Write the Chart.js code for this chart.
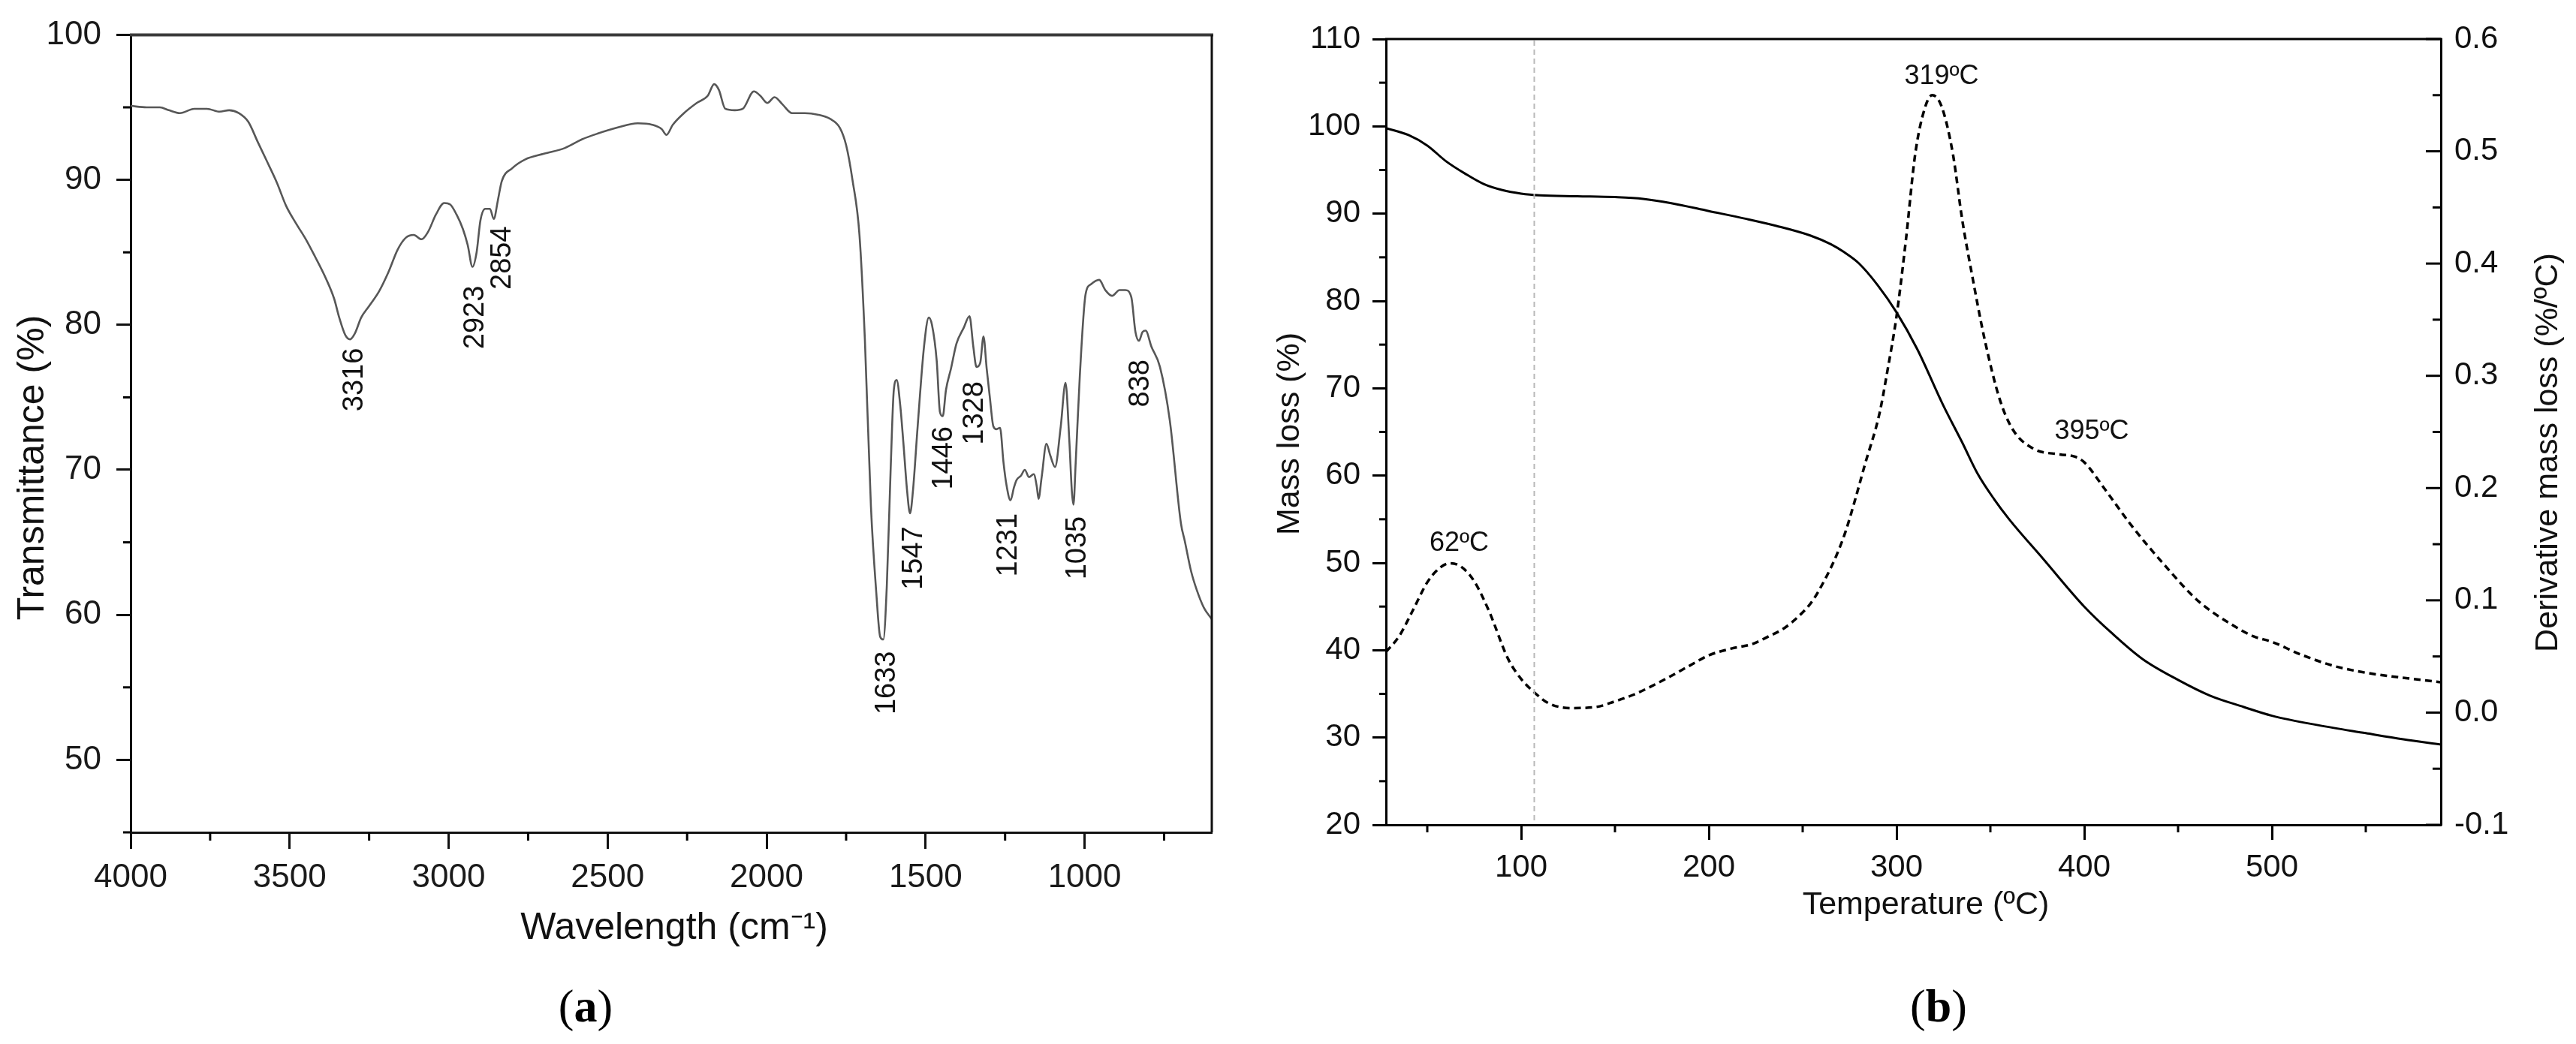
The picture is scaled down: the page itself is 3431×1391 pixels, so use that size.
<!DOCTYPE html>
<html>
<head>
<meta charset="utf-8">
<title>FTIR and TGA</title>
<script src="https://cdn.jsdelivr.net/npm/chart.js@4.4.1/dist/chart.umd.min.js"></script>
<style>
  html, body { margin: 0; padding: 0; background: #fff; }
  #page { position: relative; width: 3431px; height: 1391px; overflow: hidden; background: #fff; }
  canvas { position: absolute; top: 0; }
  #ftirChart { left: 0; }
  #tgaChart { left: 1700px; }
  .panel-tag { position: absolute; top: 1340px; transform: translate(-50%, -50%);
    font-family: "Liberation Serif", "DejaVu Serif", serif; font-size: 62px; color: #000; }
  .panel-tag b { font-weight: bold; }
</style>
</head>
<body>
<div id="page">
  <canvas id="ftirChart" width="1700" height="1300" style="width:1700px;height:1300px"></canvas>
  <canvas id="tgaChart" width="1731" height="1300" style="width:1731px;height:1300px"></canvas>
  <div class="panel-tag" style="left:780px">(<b>a</b>)</div>
  <div class="panel-tag" style="left:2582px">(<b>b</b>)</div>
</div>
<script>
// ---- (a) FTIR spectrum ----
const ftirWavenumber = [4000, 3950, 3908, 3880, 3845, 3800, 3760, 3720, 3690, 3660, 3630, 3600, 3574, 3540, 3511,
  3480, 3449, 3420, 3386, 3360, 3344, 3325, 3310, 3295, 3275, 3250, 3219, 3190, 3160, 3135, 3110, 3085, 3065,
  3040, 3014, 2995, 2975, 2955, 2940, 2925, 2912, 2900, 2885, 2870, 2858, 2845, 2833, 2800, 2760, 2700, 2634,
  2580, 2530, 2470, 2405, 2360, 2330, 2315, 2295, 2260, 2220, 2185, 2165, 2150, 2130, 2100, 2075, 2040, 2020,
  1998, 1975, 1950, 1920, 1880, 1840, 1800, 1770, 1750, 1730, 1708, 1691, 1672, 1655, 1643, 1633, 1622, 1610,
  1600, 1591, 1580, 1570, 1558, 1549, 1540, 1525, 1505, 1490, 1480, 1465, 1455, 1446, 1436, 1420, 1403, 1380,
  1362, 1350, 1340, 1328, 1318, 1308, 1298, 1287, 1277, 1266, 1255, 1246, 1233, 1222, 1214, 1200, 1188, 1175,
  1160, 1150, 1145, 1135, 1120, 1108, 1093, 1075, 1060, 1048, 1040, 1035, 1028, 1015, 997, 980, 954, 935, 914,
  890, 872, 853, 840, 829, 818, 808, 790, 763, 732, 697, 685, 665, 647, 625, 600];
const ftirTransmittance = [95.1, 95.0, 95.0, 94.8, 94.6, 94.9, 94.9, 94.7, 94.8, 94.6, 94.0, 92.6, 91.4, 89.8, 88.2,
  87.0, 85.9, 84.7, 83.2, 81.8, 80.5, 79.3, 79.0, 79.4, 80.5, 81.3, 82.3, 83.6, 85.2, 86.0, 86.2, 85.9, 86.4,
  87.6, 88.4, 88.3, 87.6, 86.6, 85.5, 84.0, 85.0, 87.2, 88.0, 88.0, 87.3, 88.6, 89.9, 90.8, 91.4, 91.8, 92.2,
  92.8, 93.2, 93.6, 93.9, 93.8, 93.5, 93.1, 93.8, 94.6, 95.3, 95.8, 96.6, 96.2, 94.9, 94.8, 94.9, 96.1, 95.8,
  95.3, 95.7, 95.2, 94.6, 94.6, 94.5, 94.2, 93.6, 92.4, 90.0, 86.2, 79.0, 67.5, 61.5, 58.5, 58.3, 62.0, 70.0,
  75.5, 76.2, 74.5, 71.9, 68.5, 67.0, 68.5, 73.0, 78.5, 80.5, 80.0, 77.5, 74.0, 73.7, 75.5, 77.0, 78.7, 79.8,
  80.6, 78.5, 77.1, 77.4, 79.2, 77.0, 75.0, 73.0, 72.8, 72.9, 70.5, 69.0, 67.9, 68.8, 69.3, 69.6, 70.0, 69.5,
  69.7, 68.8, 68.0, 69.5, 71.8, 71.0, 70.2, 73.0, 76.0, 72.0, 68.5, 67.6, 70.5, 76.5, 82.1, 82.8, 83.1, 82.4, 82.0,
  82.4, 82.4, 81.9, 79.5, 78.9, 79.5, 79.6, 78.5, 77.1, 73.4, 66.3, 65.1, 63.0, 61.7, 60.5, 59.7];
const ftirPeakLabels = ['3316', '2923', '2854', '1633', '1547', '1446', '1328', '1231', '1035', '838'];
const ftirPeakX = [3294, 2914, 2829, 1620, 1535, 1441, 1346, 1238, 1022, 824];
const ftirPeakTop = [78.4, 82.7, 86.8, 57.5, 66.1, 73.0, 76.1, 67.0, 66.8, 77.6];
const ftirXTicks = [4000, 3500, 3000, 2500, 2000, 1500, 1000];
const ftirXMinor = [3750, 3250, 2750, 2250, 1750, 1250, 750];
const ftirYTicks = [50, 60, 70, 80, 90, 100];
const ftirYMinor = [45, 55, 65, 75, 85, 95];

// ---- (b) TGA / DTG ----
const tgaTemp = [28, 40, 50, 60, 70, 80, 90, 100, 110, 130, 150, 165, 180, 200, 220, 236, 254, 265, 272, 280, 290,
  300, 311, 325, 335, 343, 352, 360, 378, 400, 415, 431, 450, 467, 485, 500, 525, 550, 570, 590];
const tgaMass = [99.8, 99.0, 97.8, 96.0, 94.6, 93.4, 92.7, 92.3, 92.1, 92.0, 91.9, 91.7, 91.2, 90.3, 89.4, 88.6,
  87.5, 86.5, 85.6, 84.3, 81.8, 78.7, 74.5, 68.0, 63.8, 60.3, 57.3, 55.0, 50.5, 45.0, 41.9, 39.0, 36.6, 34.8, 33.5,
  32.5, 31.4, 30.5, 29.8, 29.2];
const dtgTemp = [28, 35, 42, 50, 56, 62, 68, 75, 83, 93, 100, 107, 115, 127, 140, 150, 160, 177, 190, 200, 212, 223,
  232, 240, 248, 255, 262, 268, 273, 278, 283, 291, 295, 300, 305, 310, 315, 319, 324, 330, 335, 340, 347, 355,
  362, 373, 387, 395, 400, 411, 425, 443, 461, 479, 490, 500, 515, 532, 545, 560, 575, 590];
const dtgRate = [0.054, 0.068, 0.090, 0.116, 0.128, 0.133, 0.130, 0.117, 0.090, 0.048, 0.030, 0.018, 0.008, 0.004,
  0.005, 0.010, 0.016, 0.030, 0.042, 0.051, 0.057, 0.061, 0.068, 0.075, 0.086, 0.099, 0.119, 0.140, 0.162, 0.190,
  0.220, 0.267, 0.303, 0.353, 0.421, 0.498, 0.538, 0.550, 0.540, 0.498, 0.439, 0.392, 0.332, 0.279, 0.252, 0.235,
  0.230, 0.228, 0.223, 0.199, 0.167, 0.131, 0.099, 0.078, 0.068, 0.063, 0.052, 0.042, 0.037, 0.033, 0.030, 0.027];
const peakLabels = ['62ºC', '319ºC', '395ºC'];
const peakX = [67, 324, 404];
const peakY = [52.2, 105.7, 65.0];
const dryingLine = 107;
const tempTicks = [100, 200, 300, 400, 500];
const tempMinor = [50, 150, 250, 350, 450, 550];
const massTicks = [20, 30, 40, 50, 60, 70, 80, 90, 100, 110];
const massMinor = [25, 35, 45, 55, 65, 75, 85, 95, 105];
const rateTicks = [-0.1, 0, 0.1, 0.2, 0.3, 0.4, 0.5, 0.6];
const rateMinor = [-0.05, 0.05, 0.15, 0.25, 0.35, 0.45, 0.55];

const FONT = '"Liberation Sans", Arial, sans-serif';

// extra drawing: closed frame edges, minor ticks, markers, titles, peak labels
const extras = {
  id: 'extras',
  afterDraw(chart, args, opts) {
    const ctx = chart.ctx;
    const a = chart.chartArea;
    ctx.save();
    ctx.lineCap = 'butt';

    (opts.edges || []).forEach(e => {
      ctx.strokeStyle = e.color;
      ctx.lineWidth = e.width;
      ctx.beginPath();
      if (e.side === 'top') { ctx.moveTo(a.left - 1, a.top); ctx.lineTo(a.right + e.width / 2, a.top); }
      if (e.side === 'right') { ctx.moveTo(a.right, a.top); ctx.lineTo(a.right, a.bottom); }
      ctx.stroke();
    });

    (opts.ticks || []).forEach(t => {
      const s = chart.scales[t.scale];
      ctx.strokeStyle = '#000';
      ctx.lineWidth = t.width || 3;
      t.values.forEach(v => {
        const p = s.getPixelForValue(v);
        ctx.beginPath();
        if (t.where === 'bottom') { ctx.moveTo(p, a.bottom); ctx.lineTo(p, a.bottom + t.len); }
        if (t.where === 'left') { ctx.moveTo(a.left, p); ctx.lineTo(a.left - t.len, p); }
        if (t.where === 'rightIn') { ctx.moveTo(a.right, p); ctx.lineTo(a.right - t.len, p); }
        ctx.stroke();
      });
    });

    (opts.vlines || []).forEach(l => {
      const p = chart.scales[l.scale].getPixelForValue(l.value);
      ctx.strokeStyle = l.color;
      ctx.lineWidth = 2;
      ctx.setLineDash([7, 5]);
      ctx.beginPath();
      ctx.moveTo(p, a.top + 2);
      ctx.lineTo(p, a.bottom - 2);
      ctx.stroke();
      ctx.setLineDash([]);
    });

    (opts.labels || []).forEach(l => {
      const x = chart.scales[l.xScale].getPixelForValue(l.x);
      const y = chart.scales[l.yScale].getPixelForValue(l.y);
      ctx.font = l.font;
      ctx.fillStyle = '#111';
      ctx.translate(x, y);
      ctx.rotate(l.rotate || 0);
      ctx.textAlign = l.align || 'center';
      ctx.textBaseline = 'middle';
      ctx.fillText(l.text, 0, 0);
      ctx.setTransform(1, 0, 0, 1, 0, 0);
    });

    (opts.titles || []).forEach(t => {
      ctx.font = t.font;
      ctx.fillStyle = '#111';
      ctx.translate(t.px, t.py);
      ctx.rotate(t.rotate || 0);
      ctx.textAlign = 'center';
      ctx.textBaseline = 'middle';
      ctx.fillText(t.text, 0, 0);
      ctx.setTransform(1, 0, 0, 1, 0, 0);
    });
    ctx.restore();
  }
};

function fixTicks(values) {
  return scale => { scale.ticks = values.map(v => ({ value: v })); };
}

// FTIR chart
new Chart(document.getElementById('ftirChart'), {
  type: 'line',
  data: {
    datasets: [{
      data: ftirWavenumber.map((w, i) => ({ x: w, y: ftirTransmittance[i] })),
      borderColor: '#575757',
      borderWidth: 2.6,
      pointRadius: 0,
      tension: 0.35,
      cubicInterpolationMode: 'monotone'
    }]
  },
  options: {
    responsive: false,
    animation: false,
    devicePixelRatio: 1,
    layout: { padding: { top: 35, right: 86, left: 0, bottom: 0 } },
    plugins: {
      legend: { display: false },
      tooltip: { enabled: false },
      extras: {
        edges: [{ side: 'top', color: '#3a3a3a', width: 4 }, { side: 'right', color: '#111', width: 3 }],
        ticks: [
          { scale: 'x', where: 'bottom', values: ftirXMinor, len: 11 },
          { scale: 'y', where: 'left', values: ftirYMinor, len: 10 }
        ],
        labels: ftirPeakLabels.map((t, i) => ({
          text: t, x: ftirPeakX[i], y: ftirPeakTop[i], xScale: 'x', yScale: 'y',
          rotate: -Math.PI / 2, align: 'right', font: '38px ' + FONT
        })),
        titles: [
          { text: 'Transmittance (%)', px: 44, py: 623, rotate: -Math.PI / 2, font: '50px ' + FONT },
          { text: 'Wavelength (cm\u207B\u00B9)', px: 898, py: 1237, font: '50px ' + FONT }
        ]
      }
    },
    scales: {
      x: {
        type: 'linear', reverse: true, min: 600, max: 4000,
        afterBuildTicks: fixTicks(ftirXTicks),
        afterFit: s => { s.height = 191; },
        border: { display: true, color: '#111', width: 3 },
        grid: { drawOnChartArea: false, drawTicks: true, tickLength: 22, tickWidth: 3, tickColor: '#111' },
        ticks: { color: '#1a1a1a', font: { family: FONT, size: 44 }, padding: 12, maxRotation: 0,
          autoSkip: false, callback: v => String(v) }
      },
      y: {
        type: 'linear', min: 45, max: 100,
        afterBuildTicks: fixTicks(ftirYTicks),
        afterFit: s => { s.width = 174; },
        border: { display: true, color: '#111', width: 3 },
        grid: { drawOnChartArea: false, drawTicks: true, tickLength: 19, tickWidth: 3, tickColor: '#111' },
        ticks: { color: '#1a1a1a', font: { family: FONT, size: 44 }, padding: 20, callback: v => String(v) }
      }
    }
  },
  plugins: [extras]
});

// TGA / DTG chart
new Chart(document.getElementById('tgaChart'), {
  type: 'line',
  data: {
    datasets: [{
      data: tgaTemp.map((t, i) => ({ x: t, y: tgaMass[i] })),
      yAxisID: 'yMass',
      borderColor: '#000',
      borderWidth: 3,
      pointRadius: 0,
      cubicInterpolationMode: 'monotone'
    }, {
      data: dtgTemp.map((t, i) => ({ x: t, y: dtgRate[i] })),
      yAxisID: 'yRate',
      borderColor: '#000',
      borderWidth: 3.5,
      borderDash: [9, 6],
      pointRadius: 0,
      cubicInterpolationMode: 'monotone'
    }]
  },
  options: {
    responsive: false,
    animation: false,
    devicePixelRatio: 1,
    layout: { padding: { top: 52, right: 0, left: 0, bottom: 0 } },
    plugins: {
      legend: { display: false },
      tooltip: { enabled: false },
      extras: {
        edges: [{ side: 'top', color: '#000', width: 3 }],
        ticks: [
          { scale: 'x', where: 'bottom', values: tempMinor, len: 10 },
          { scale: 'yMass', where: 'left', values: massMinor, len: 9 },
          { scale: 'yRate', where: 'rightIn', values: rateTicks, len: 20 },
          { scale: 'yRate', where: 'rightIn', values: rateMinor, len: 11 }
        ],
        vlines: [{ scale: 'x', value: dryingLine, color: '#b8b8b8' }],
        labels: peakLabels.map((t, i) => ({
          text: t, x: peakX[i], y: peakY[i], xScale: 'x', yScale: 'yMass', font: '36px ' + FONT
        })),
        titles: [
          { text: 'Mass loss (%)', px: 18, py: 578, rotate: -Math.PI / 2, font: '43px ' + FONT },
          { text: 'Derivative mass loss (%/ºC)', px: 1694, py: 603, rotate: -Math.PI / 2, font: '43px ' + FONT },
          { text: 'Temperature (ºC)', px: 865, py: 1206, font: '43px ' + FONT }
        ]
      }
    },
    scales: {
      x: {
        type: 'linear', min: 28, max: 590,
        afterBuildTicks: fixTicks(tempTicks),
        afterFit: s => { s.height = 201; },
        border: { display: true, color: '#000', width: 3 },
        grid: { drawOnChartArea: false, drawTicks: true, tickLength: 20, tickWidth: 3, tickColor: '#000' },
        ticks: { color: '#111', font: { family: FONT, size: 42 }, padding: 12, maxRotation: 0,
          autoSkip: false, callback: v => String(v) }
      },
      yMass: {
        type: 'linear', position: 'left', min: 20, max: 110,
        afterBuildTicks: fixTicks(massTicks),
        afterFit: s => { s.width = 146; },
        border: { display: true, color: '#000', width: 3 },
        grid: { drawOnChartArea: false, drawTicks: true, tickLength: 18, tickWidth: 3, tickColor: '#000' },
        ticks: { color: '#111', font: { family: FONT, size: 42 }, padding: 16, callback: v => String(v) }
      },
      yRate: {
        type: 'linear', position: 'right', min: -0.1, max: 0.6,
        afterBuildTicks: fixTicks(rateTicks),
        afterFit: s => { s.width = 180; },
        border: { display: true, color: '#000', width: 3 },
        grid: { display: false },
        ticks: { color: '#111', font: { family: FONT, size: 42 }, padding: 10, callback: v => v.toFixed(1) }
      }
    }
  },
  plugins: [extras]
});
</script>
</body>
</html>
